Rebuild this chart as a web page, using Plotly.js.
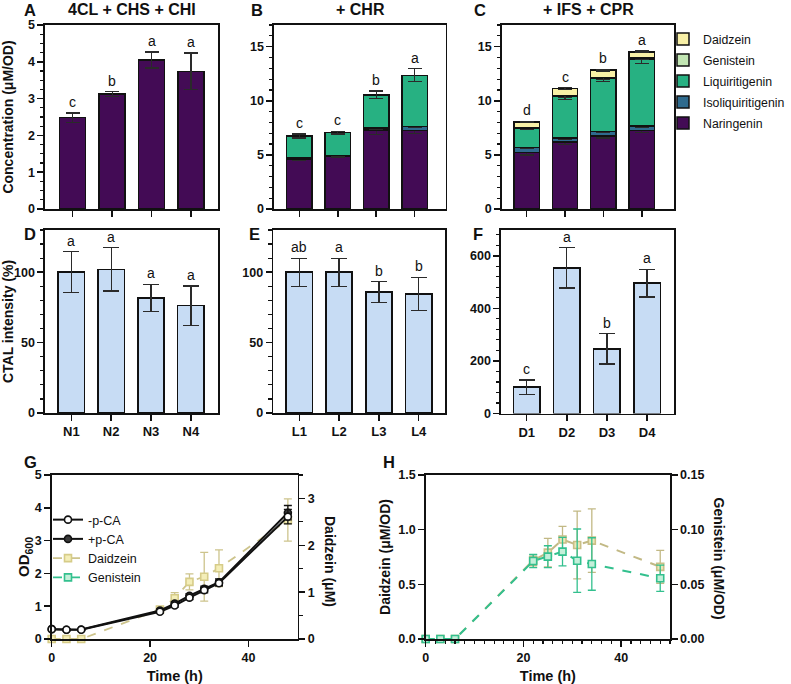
<!DOCTYPE html>
<html><head><meta charset="utf-8">
<script src="https://cdn.plot.ly/plotly-3.0.1.min.js"></script>
<style>html,body{margin:0;padding:0;background:#fff}#chart{width:791px;height:684px}</style>
</head><body><div id="chart"></div>
<script>
// ---------- data ----------
const strainsN = ['N1','N2','N3','N4'];
const strainsL = ['L1','L2','L3','L4'];
const strainsD = ['D1','D2','D3','D4'];

// Panel A (4CL + CHS + CHI)
const aNar = [2.48, 3.12, 4.05, 3.74];
const aNarErr = [0.13, 0.07, 0.22, 0.50];
const aLetters = ['c','b','a','a'];

// Panel B (+ CHR)
const bNar = [4.60, 4.85, 7.30, 7.25];
const bNarErr = [0.15, 0.10, 0.40, 0.30];
const bIso = [0.10, 0.08, 0.20, 0.35];
const bIsoErr = [0.05, 0.03, 0.10, 0.10];
const bLiq = [2.05, 2.12, 3.05, 4.75];
const bLiqErr = [0.19, 0.12, 0.35, 0.60];
const bLetters = ['c','c','b','a'];

// Panel C (+ IFS + CPR)
const cNar = [5.20, 6.20, 6.75, 7.25];
const cNarErr = [0.20, 0.25, 0.20, 0.15];
const cIso = [0.50, 0.35, 0.40, 0.42];
const cIsoErr = [0.10, 0.10, 0.10, 0.10];
const cLiq = [1.75, 3.85, 4.90, 6.17];
const cLiqErr = [0.10, 0.30, 0.30, 0.40];
const cGen = [0.05, 0.08, 0.10, 0.10];
const cGenErr = [0.03, 0.20, 0.20, 0.12];
const cDai = [0.55, 0.65, 0.67, 0.57];
const cDaiErr = [0.05, 0.08, 0.08, 0.08];
const cLetters = ['d','c','b','a'];

// Panels D, E, F (CTAL intensity %)
const dCtal = [100, 102, 81.7, 76.3];
const dCtalErr = [14.5, 15.4, 9.7, 14.0];
const dLetters = ['a','a','a','a'];
const eCtal = [100, 100, 86.0, 84.6];
const eCtalErr = [10.0, 10.0, 7.4, 11.8];
const eLetters = ['ab','a','b','b'];
const fCtal = [100, 554, 246, 496];
const fCtalErr = [28, 77, 58, 53];
const fLetters = ['c','a','b','a'];

// Panel G (growth + daidzein titre)
const timeH = [0, 3, 6, 22, 25, 28, 31, 34, 48];
const odMinus = [0.30, 0.28, 0.28, 0.83, 1.02, 1.26, 1.49, 1.70, 3.73];
const odMinusErr = [0.02, 0.02, 0.02, 0.04, 0.05, 0.06, 0.08, 0.08, 0.22];
const odPlus = [0.30, 0.28, 0.29, 0.87, 1.08, 1.32, 1.53, 1.73, 3.85];
const odPlusErr = [0.02, 0.02, 0.02, 0.04, 0.05, 0.06, 0.08, 0.10, 0.22];
const gDai = [0, 0, 0, 0.63, 0.87, 1.22, 1.33, 1.51, 2.54];
const gDaiErr = [0, 0, 0, 0.05, 0.12, 0.17, 0.52, 0.39, 0.45];
const gGenTime = [null];   // legend-only entry in panel G
const gGen = [null];

// Panel H (specific titres)
const hDai = [0, 0, 0, 0.72, 0.79, 0.91, 0.86, 0.90, 0.66];
const hDaiErr = [0, 0, 0, 0.05, 0.13, 0.12, 0.31, 0.29, 0.15];
const hGen = [0, 0, 0, 0.0713, 0.0753, 0.0799, 0.0716, 0.0686, 0.0555];
const hGenErr = [0, 0, 0, 0.006, 0.010, 0.013, 0.029, 0.024, 0.012];

// ---------- styling ----------
const W = 791, H = 684;
const px = v => v / W;
const py = v => 1 - v / H;
const FONT = 'Liberation Sans, Arial, Helvetica, sans-serif';
const INK = '#111111';
const COL = {
  nar: '#430B55', iso: '#2F6B8E', liq: '#27B182', gen: '#C2E6B3', dai: '#F8F0A6',
  ctal: '#C7DCF4', gDaiLine: '#CDC48C', gDaiFill: '#F4EEB8', genLine: '#33C08E', genFill: '#C4EFD9'
};

function errs(arr, col, w) {
  return {type: 'data', array: arr, visible: true, color: col || '#2a2a2a', thickness: 1.3, width: w || 7};
}
function bar(name, cats, vals, er, color, id, extra) {
  return Object.assign({
    type: 'bar', name: name, x: cats, y: vals, xaxis: 'x' + id, yaxis: 'y' + id,
    width: 0.66, marker: {color: color, line: {color: INK, width: 1.5}},
    error_y: errs(er), showlegend: false, legendgroup: name
  }, extra || {});
}

const traces = [
  bar('Naringenin', strainsN, aNar, aNarErr, COL.nar, ''),
  bar('Naringenin', strainsL, bNar, bNarErr, COL.nar, '2'),
  bar('Isoliquiritigenin', strainsL, bIso, bIsoErr, COL.iso, '2'),
  bar('Liquiritigenin', strainsL, bLiq, bLiqErr, COL.liq, '2'),
  bar('Naringenin', strainsD, cNar, cNarErr, COL.nar, '3', {showlegend: true, legendrank: 5}),
  bar('Isoliquiritigenin', strainsD, cIso, cIsoErr, COL.iso, '3', {showlegend: true, legendrank: 4}),
  bar('Liquiritigenin', strainsD, cLiq, cLiqErr, COL.liq, '3', {showlegend: true, legendrank: 3}),
  bar('Genistein', strainsD, cGen, cGenErr, COL.gen, '3', {showlegend: true, legendrank: 2}),
  bar('Daidzein', strainsD, cDai, cDaiErr, COL.dai, '3', {showlegend: true, legendrank: 1}),
  bar('CTAL', strainsN, dCtal, dCtalErr, COL.ctal, '4', {error_y: errs(dCtalErr, '#2a2a2a', 8)}),
  bar('CTAL', strainsL, eCtal, eCtalErr, COL.ctal, '5', {error_y: errs(eCtalErr, '#2a2a2a', 8)}),
  bar('CTAL', strainsD, fCtal, fCtalErr, COL.ctal, '6', {error_y: errs(fCtalErr, '#2a2a2a', 8)}),
  // Panel G
  {type: 'scatter', mode: 'lines+markers', name: '+p-CA', x: timeH, y: odPlus, xaxis: 'x7', yaxis: 'y8',
   line: {color: INK, width: 2}, marker: {symbol: 'circle', size: 7, color: '#3a3a3a', line: {color: INK, width: 1.6}},
   error_y: errs(odPlusErr, INK, 4), legend: 'legend2', legendrank: 2, cliponaxis: false},
  {type: 'scatter', mode: 'lines+markers', name: '-p-CA', x: timeH, y: odMinus, xaxis: 'x7', yaxis: 'y8',
   line: {color: INK, width: 2}, marker: {symbol: 'circle', size: 7, color: '#ffffff', line: {color: INK, width: 1.6}},
   error_y: errs(odMinusErr, INK, 4), legend: 'legend2', legendrank: 1, cliponaxis: false},
  {type: 'scatter', mode: 'lines+markers', name: 'Daidzein', x: timeH, y: gDai, xaxis: 'x7', yaxis: 'y7',
   line: {color: COL.gDaiLine, width: 1.8, dash: 'dash'},
   marker: {symbol: 'square', size: 7, color: COL.gDaiFill, line: {color: '#D6CC88', width: 1.6}},
   error_y: errs(gDaiErr, COL.gDaiLine, 4), legend: 'legend2', legendrank: 3, cliponaxis: false},
  {type: 'scatter', mode: 'lines+markers', name: 'Genistein', x: gGenTime, y: gGen, xaxis: 'x7', yaxis: 'y7',
   line: {color: COL.genLine, width: 1.8, dash: 'dash'},
   marker: {symbol: 'square', size: 7, color: COL.genFill, line: {color: COL.genLine, width: 1.6}},
   legend: 'legend2', legendrank: 4, cliponaxis: false},
  // Panel H
  {type: 'scatter', mode: 'lines+markers', name: 'Daidzein (H)', x: timeH, y: hDai, xaxis: 'x9', yaxis: 'y9',
   line: {color: '#C2B985', width: 2, dash: 'dash'},
   marker: {symbol: 'square', size: 7, color: '#EDE6B8', line: {color: '#C9BF86', width: 1.6}},
   error_y: errs(hDaiErr, '#C2B985', 4), showlegend: false, cliponaxis: false},
  {type: 'scatter', mode: 'lines+markers', name: 'Genistein (H)', x: timeH, y: hGen, xaxis: 'x9', yaxis: 'y10',
   line: {color: COL.genLine, width: 2, dash: 'dash'},
   marker: {symbol: 'square', size: 7, color: COL.genFill, line: {color: COL.genLine, width: 1.6}},
   error_y: errs(hGenErr, COL.genLine, 4), showlegend: false, cliponaxis: false}
];

// ---------- layout ----------
const layout = {
  width: W, height: H, autosize: false, margin: {l: 0, r: 0, t: 0, b: 0, autoexpand: false},
  paper_bgcolor: '#ffffff', plot_bgcolor: 'rgba(0,0,0,0)', barmode: 'stack', hovermode: false,
  font: {family: FONT, color: INK, size: 13}, annotations: [],
  legend: {x: px(663), y: py(24.5), xanchor: 'left', yanchor: 'top', bgcolor: 'rgba(0,0,0,0)',
           font: {family: FONT, size: 12.3, color: INK}, traceorder: 'grouped', tracegroupgap: 2},
  legend2: {x: px(48), y: py(505), xanchor: 'left', yanchor: 'top', bgcolor: 'rgba(0,0,0,0)',
            font: {family: FONT, size: 12.5, color: INK}, traceorder: 'normal'}
};

function axBase(extra) {
  return Object.assign({
    showline: true, linecolor: INK, linewidth: 1.6, ticks: 'outside', ticklen: 6, tickwidth: 1.5,
    tickcolor: INK, showgrid: false, zeroline: false, fixedrange: true, automargin: false,
    tickfont: {family: FONT, size: 12.5, color: INK, weight: 'bold'}
  }, extra);
}
function minorT(dt, dir) {
  return {dtick: dt, tick0: 0, ticks: dir || 'outside', ticklen: 3.5, tickwidth: 1.2, tickcolor: INK, showgrid: false};
}

const panels = [
  {id: '',  ov: 11, cats: strainsN, xd: [45, 218],    yd: [25, 209],    xr: [-0.70, 3.68], yr: [0, 5],   dt: 1,   mn: 0.25, lab: false},
  {id: '2', ov: 12, cats: strainsL, xd: [274, 445.7], yd: [25, 209],    xr: [-0.66, 3.81], yr: [0, 17],  dt: 5,   mn: 1,    lab: false},
  {id: '3', ov: 13, cats: strainsD, xd: [501.7, 674], yd: [25, 209],    xr: [-0.65, 3.84], yr: [0, 17],  dt: 5,   mn: 1,    lab: false},
  {id: '4', ov: 14, cats: strainsN, xd: [45, 218],    yd: [230, 413],   xr: [-0.66, 3.68], yr: [0, 130], dt: 50,  mn: 10,   lab: true},
  {id: '5', ov: 15, cats: strainsL, xd: [273.3, 445], yd: [230, 413],   xr: [-0.653, 3.66], yr: [0, 130], dt: 50, mn: 10,   lab: true},
  {id: '6', ov: 16, cats: strainsD, xd: [501, 674],   yd: [229.5, 413.5], xr: [-0.64, 3.67], yr: [0, 700], dt: 200, mn: 40, lab: true}
];
panels.forEach(p => {
  const xd = [px(p.xd[0]), px(p.xd[1])];
  const yd = [py(p.yd[1]), py(p.yd[0])];
  layout['xaxis' + p.id] = axBase({domain: xd, anchor: 'y' + p.id, type: 'category', range: p.xr, mirror: true,
    showticklabels: p.lab, tickfont: {family: FONT, size: 13, color: INK, weight: 'bold'}});
  layout['yaxis' + p.id] = axBase({domain: yd, anchor: 'x' + p.id, range: p.yr, dtick: p.dt, tick0: 0, mirror: true,
    minor: minorT(p.mn)});
  layout['xaxis' + p.ov] = {overlaying: 'x' + p.id, anchor: 'y' + p.id, side: 'top', type: 'linear', range: p.xr,
    tickmode: 'array', tickvals: p.cats.map((c, i) => i), ticks: 'inside', ticklen: 7, tickwidth: 1.5, tickcolor: INK,
    showticklabels: false, showline: false, showgrid: false, zeroline: false, fixedrange: true};
  layout['yaxis' + p.ov] = {overlaying: 'y' + p.id, anchor: 'x' + p.id, side: 'right', range: p.yr, dtick: p.dt, tick0: 0,
    ticks: 'inside', ticklen: 6, tickwidth: 1.5, tickcolor: INK, minor: minorT(p.mn, 'inside'),
    showticklabels: false, showline: false, showgrid: false, zeroline: false, fixedrange: true};
});
const yTitleFont = {family: FONT, size: 14, color: INK, weight: 'bold'};
layout.yaxis.title = {text: 'Concentration (μM/OD)', font: yTitleFont, standoff: 12};
layout.yaxis4.title = {text: 'CTAL intensity (%)', font: yTitleFont, standoff: 8};

// Panel G axes
const gX = [px(51.7), px(297.7)], gY = [py(639), py(475)];
layout.xaxis7 = axBase({domain: gX, anchor: 'y7', range: [0, 50], dtick: 20, tick0: 0, mirror: true,
  title: {text: 'Time (h)', font: {family: FONT, size: 14.5, color: INK, weight: 'bold'}, standoff: 8}});
layout.yaxis7 = axBase({domain: gY, anchor: 'x7', side: 'right', range: [0, 3.5], dtick: 1, tick0: 0, minor: minorT(0.5)});
layout.yaxis8 = axBase({overlaying: 'y7', anchor: 'x7', side: 'left', range: [0, 5], dtick: 1, tick0: 0,
  title: {text: 'OD<sub>600</sub>', font: {family: FONT, size: 15, color: INK, weight: 'bold'}, standoff: 0}});

// Panel H axes
const hX = [px(425.7), px(670)];
layout.xaxis9 = axBase({domain: hX, anchor: 'y9', range: [0, 50], dtick: 20, tick0: 0, mirror: true, minor: minorT(2),
  title: {text: 'Time (h)', font: {family: FONT, size: 14.5, color: INK, weight: 'bold'}, standoff: 8}});
layout.yaxis9 = axBase({domain: gY, anchor: 'x9', range: [0, 1.5], dtick: 0.5, tick0: 0, tickformat: '.1f',
  title: {text: 'Daidzein (μM/OD)', font: yTitleFont, standoff: 4}});
layout.yaxis10 = axBase({overlaying: 'y9', anchor: 'x9', side: 'right', range: [0, 0.15], dtick: 0.05, tick0: 0, tickformat: '.2f'});

// ---------- annotations ----------
const ann = layout.annotations;
function paperText(text, x, y, size, angle) {
  ann.push({text: text, x: px(x), y: py(y), xref: 'paper', yref: 'paper', showarrow: false,
    xanchor: 'center', yanchor: 'middle', textangle: angle || 0,
    font: {family: FONT, size: size, color: INK, weight: 'bold'}});
}
[['A', 30, 10], ['B', 257, 10], ['C', 480, 10], ['D', 30, 234], ['E', 254, 234], ['F', 478, 234],
 ['G', 30, 462], ['H', 389, 462]].forEach(l => paperText(l[0], l[1], l[2], 16.5));
paperText('4CL + CHS + CHI', 131.5, 10, 16);
paperText('+ CHR', 360, 10, 16);
paperText('+ IFS + CPR', 588, 10, 16);
paperText('Daidzein (μM)', 330, 561, 14, 90);
paperText('Genistein (μM/OD)', 718.5, 558, 14, 90);

function letters(id, cats, stacks, topErr, labels) {
  cats.forEach((c, i) => {
    const top = stacks.reduce((s, arr) => s + arr[i], 0) + topErr[i];
    ann.push({text: labels[i], x: c, y: top, xref: 'x' + id, yref: 'y' + id, showarrow: false,
      xanchor: 'center', yanchor: 'bottom', yshift: 1, font: {family: FONT, size: 14, color: INK}});
  });
}
letters('', strainsN, [aNar], aNarErr, aLetters);
letters('2', strainsL, [bNar, bIso, bLiq], bLiqErr, bLetters);
letters('3', strainsD, [cNar, cIso, cLiq, cGen, cDai], cDaiErr, cLetters);
letters('4', strainsN, [dCtal], dCtalErr, dLetters);
letters('5', strainsL, [eCtal], eCtalErr, eLetters);
letters('6', strainsD, [fCtal], fCtalErr, fLetters);

Plotly.newPlot('chart', traces, layout, {staticPlot: true, displayModeBar: false});
</script>
</body></html>
